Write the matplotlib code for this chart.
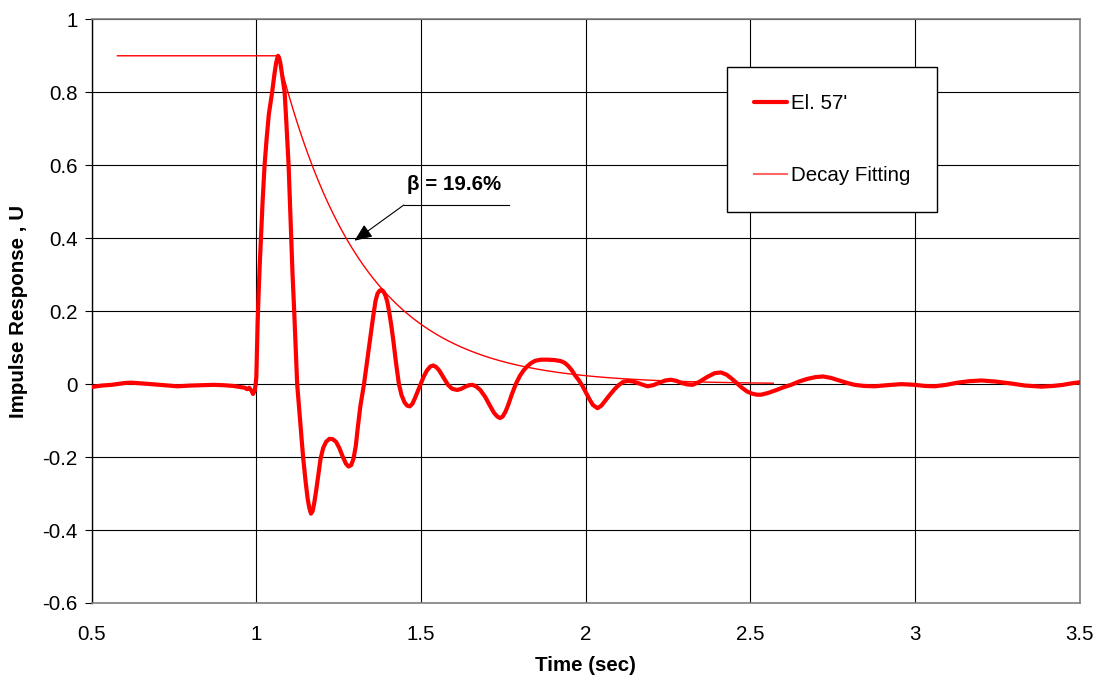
import numpy as np
import matplotlib
matplotlib.use("Agg")
import matplotlib.pyplot as plt
from matplotlib.ticker import FixedLocator, FixedFormatter

plt.rcParams['font.family'] = ['Liberation Sans', 'DejaVu Sans']

# Measured impulse response at El. 57'
time_s = [
    0.500, 0.530, 0.560, 0.600, 0.620, 0.650, 0.680, 0.720, 0.760, 0.800,
    0.840, 0.870, 0.900, 0.930, 0.950, 0.965, 0.972, 0.978, 0.985, 0.990,
    0.995, 0.998,
    1.000, 1.002, 1.004, 1.007, 1.010, 1.014, 1.019, 1.025, 1.031, 1.038,
    1.048, 1.055, 1.060, 1.064, 1.066, 1.069, 1.073, 1.078, 1.086, 1.091,
    1.098, 1.102, 1.106, 1.110, 1.115, 1.119, 1.124, 1.133, 1.142, 1.150,
    1.156, 1.161, 1.166, 1.171, 1.176, 1.182, 1.188, 1.195, 1.203, 1.212,
    1.222, 1.232, 1.242, 1.252, 1.262, 1.272, 1.280, 1.288, 1.295, 1.302,
    1.308, 1.316, 1.327, 1.336, 1.345, 1.354, 1.362, 1.368, 1.374, 1.380,
    1.386, 1.392, 1.398, 1.404, 1.410, 1.416, 1.424, 1.433, 1.441, 1.450,
    1.458, 1.466, 1.474, 1.482, 1.490, 1.499, 1.508, 1.518, 1.528, 1.537,
    1.546, 1.555, 1.563, 1.572, 1.582, 1.595, 1.610, 1.622, 1.635, 1.646,
    1.656, 1.667, 1.680, 1.695, 1.710, 1.722, 1.732, 1.740, 1.748, 1.757,
    1.765, 1.776, 1.788, 1.800, 1.812, 1.823, 1.835, 1.847, 1.864, 1.885,
    1.905, 1.925, 1.937, 1.947, 1.958, 1.968, 1.980, 1.991, 2.002, 2.012,
    2.022, 2.036, 2.048, 2.060, 2.073, 2.087, 2.100, 2.114, 2.128, 2.145,
    2.165, 2.188, 2.205, 2.225, 2.242, 2.259, 2.275, 2.292, 2.310, 2.325,
    2.345, 2.370, 2.392, 2.411, 2.428, 2.445, 2.460, 2.475, 2.490, 2.505,
    2.520, 2.533, 2.555, 2.580, 2.600, 2.624, 2.648, 2.672, 2.697, 2.721,
    2.745, 2.770, 2.795, 2.817, 2.845, 2.878, 2.915, 2.959, 3.000, 3.030,
    3.060, 3.095, 3.130, 3.165, 3.202, 3.245, 3.290, 3.335, 3.385, 3.420,
    3.450, 3.475, 3.500,
]
response_u = [
    -0.008, -0.004, -0.002, 0.003, 0.004, 0.002, 0.000, -0.003, -0.006, -0.004,
    -0.003, -0.002, -0.003, -0.005, -0.008, -0.010, -0.014, -0.010, -0.018, -0.027,
    -0.018, 0.000,
    0.020, 0.100, 0.170, 0.250, 0.320, 0.400, 0.500, 0.600, 0.670, 0.740,
    0.800, 0.850, 0.880, 0.895, 0.900, 0.895, 0.880, 0.850, 0.800, 0.720,
    0.600, 0.500, 0.400, 0.300, 0.200, 0.110, 0.000, -0.100, -0.200, -0.270,
    -0.315, -0.340, -0.355, -0.348, -0.325, -0.290, -0.250, -0.205, -0.175, -0.158,
    -0.150, -0.151, -0.158, -0.175, -0.198, -0.218, -0.226, -0.222, -0.205, -0.170,
    -0.120, -0.060, 0.000, 0.060, 0.120, 0.180, 0.228, 0.248, 0.256, 0.258,
    0.254, 0.243, 0.225, 0.195, 0.160, 0.120, 0.060, 0.000, -0.030, -0.050,
    -0.059, -0.061, -0.054, -0.038, -0.020, 0.000, 0.020, 0.037, 0.048, 0.051,
    0.047, 0.038, 0.026, 0.012, -0.002, -0.013, -0.016, -0.013, -0.007, -0.003,
    -0.002, -0.006, -0.016, -0.035, -0.060, -0.079, -0.089, -0.093, -0.089, -0.075,
    -0.057, -0.028, 0.000, 0.022, 0.038, 0.049, 0.058, 0.064, 0.067, 0.067,
    0.066, 0.063, 0.058, 0.050, 0.038, 0.024, 0.010, -0.006, -0.025, -0.042,
    -0.057, -0.066, -0.059, -0.045, -0.030, -0.015, -0.003, 0.006, 0.009, 0.007,
    0.001, -0.006, -0.003, 0.004, 0.010, 0.012, 0.009, 0.003, -0.001, -0.002,
    0.006, 0.020, 0.030, 0.032, 0.026, 0.014, 0.002, -0.010, -0.020, -0.026,
    -0.029, -0.029, -0.024, -0.016, -0.009, -0.002, 0.007, 0.014, 0.019, 0.021,
    0.017, 0.010, 0.003, -0.002, -0.005, -0.006, -0.003, 0.000, -0.002, -0.005,
    -0.006, -0.002, 0.004, 0.008, 0.010, 0.007, 0.002, -0.004, -0.007, -0.005,
    -0.002, 0.002, 0.005,
]

# Exponential decay envelope fitted to the response peaks
beta = 0.196            # damping ratio, 19.6 %
peak_u = 0.90           # first peak amplitude
peak_t = 1.066          # time of first peak (s)
second_peak_t = 1.380   # time of second peak (s)
fit_start_t = 0.578
fit_end_t = 2.57

period = second_peak_t - peak_t
omega = 2 * np.pi / period
t_flat = np.array([fit_start_t, peak_t])
t_decay = np.linspace(peak_t, fit_end_t, 300)
fit_t = np.concatenate([t_flat, t_decay])
fit_u = np.concatenate([[peak_u, peak_u],
                        peak_u * np.exp(-beta * omega * (t_decay - peak_t))])

x_ticks = [0.5, 1.0, 1.5, 2.0, 2.5, 3.0, 3.5]
x_tick_labels = ["0.5", "1", "1.5", "2", "2.5", "3", "3.5"]
y_ticks = [-0.6, -0.4, -0.2, 0.0, 0.2, 0.4, 0.6, 0.8, 1.0]
y_tick_labels = ["-0.6", "-0.4", "-0.2", "0", "0.2", "0.4", "0.6", "0.8", "1"]

FS = 14.8
W, H = 1096, 677
fig = plt.figure(figsize=(W / 100, H / 100), dpi=100)
ax = fig.add_axes([91.7 / W, 1 - 603 / H, (1079.5 - 91.7) / W, (603 - 19.3) / H])

ax.plot(time_s, response_u, color="#FF0000", lw=3.0, solid_joinstyle="round",
        solid_capstyle="round", label="El. 57'", zorder=3)
ax.plot(fit_t, fit_u, color="#FF0000", lw=1.0, label="Decay Fitting", zorder=4)

ax.set_xlim(0.5, 3.5)
ax.set_ylim(-0.6, 1.0)
ax.xaxis.set_major_locator(FixedLocator(x_ticks))
ax.xaxis.set_major_formatter(FixedFormatter(x_tick_labels))
ax.yaxis.set_major_locator(FixedLocator(y_ticks))
ax.yaxis.set_major_formatter(FixedFormatter(y_tick_labels))

ax.grid(True, color="black", lw=0.8, zorder=1)
ax.set_axisbelow(True)
for side in ("top", "right", "bottom"):
    ax.spines[side].set_color("#808080")
    ax.spines[side].set_linewidth(1.2)
ax.spines["left"].set_color("black")
ax.spines["left"].set_linewidth(1.0)

ax.tick_params(axis="x", length=0, pad=16, labelsize=FS)
ax.tick_params(axis="y", length=5, width=0.8, direction="out", pad=5, labelsize=FS)

ax.set_xlabel("Time (sec)", fontsize=FS, fontweight="bold")
ax.set_ylabel("Impulse Response , U", fontsize=FS, fontweight="bold")
ax.xaxis.set_label_coords(0.5, -(656 - 603) / (603 - 19.3))
ax.yaxis.set_label_coords((28 - 91.7) / (1079.5 - 91.7), 0.5)

# Damping annotation with leader line
ax.plot([1.448, 1.767], [0.491, 0.491], color="black", lw=0.8, zorder=5)
ax.annotate("", xy=(1.298, 0.393), xytext=(1.448, 0.491),
            arrowprops=dict(arrowstyle="-|>,head_length=0.6,head_width=0.25",
                            color="black", lw=0.8, mutation_scale=18,
                            shrinkA=0, shrinkB=0), zorder=5)
ax.text(1.602, 0.546, "\u03b2 = 19.6%", fontsize=FS, fontweight="bold",
        ha="center", va="center", zorder=5)

leg = ax.legend(loc="upper left", bbox_to_anchor=(727.3 / W, 1 - 67.3 / H),
                bbox_transform=fig.transFigure, borderaxespad=0,
                fontsize=FS, frameon=True, fancybox=False, framealpha=1,
                edgecolor="black", borderpad=1.3, labelspacing=2.6,
                handlelength=1.6, handletextpad=0.2)
leg.get_frame().set_linewidth(1.0)
leg.legend_handles[1].set_color("#FF6666")
leg.legend_handles[1].set_linewidth(1.5)

fig.savefig("out.png", dpi=100)
